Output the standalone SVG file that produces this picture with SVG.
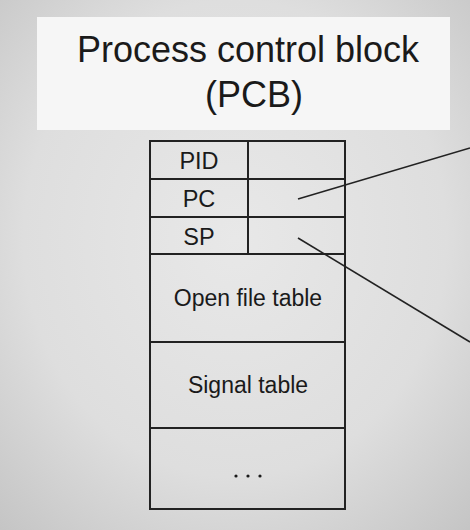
<svg xmlns="http://www.w3.org/2000/svg" width="470" height="530" viewBox="0 0 470 530">
<defs>
<radialGradient id="bg" cx="0.5" cy="0.45" r="0.75">
<stop offset="0" stop-color="#e8e8e8"/>
<stop offset="0.6" stop-color="#dedede"/>
<stop offset="1" stop-color="#c4c4c4"/>
</radialGradient>
<style>
.t{font-family:"Liberation Sans",Arial,sans-serif;fill:#1a1a1a;text-anchor:middle}
.cell{fill:none;stroke:#222;stroke-width:2}
.ptr{stroke:#222;stroke-width:1.6;fill:none}
</style>
</defs>
<rect width="470" height="530" fill="url(#bg)"/>
<g id="title">
<rect x="37" y="17" width="413" height="113" fill="#f6f6f6"/>
<text class="t" x="248" y="62" font-size="36">Process control block</text>
<text class="t" x="254" y="107" font-size="36">(PCB)</text>
</g>
<g id="pcb">
<rect class="cell" x="150" y="141" width="195" height="368"/>
<line class="cell" x1="248" y1="141" x2="248" y2="254"/>
<line class="cell" x1="150" y1="179" x2="345" y2="179"/>
<line class="cell" x1="150" y1="217" x2="345" y2="217"/>
<line class="cell" x1="150" y1="254" x2="345" y2="254"/>
<line class="cell" x1="150" y1="342" x2="345" y2="342"/>
<line class="cell" x1="150" y1="428" x2="345" y2="428"/>
</g>
<g id="pid"><text class="t" x="199" y="169" font-size="23.5">PID</text></g>
<g id="pc"><text class="t" x="199" y="207" font-size="23.5">PC</text></g>
<g id="sp"><text class="t" x="199" y="245" font-size="23.5">SP</text></g>
<g id="openfile"><text class="t" x="248" y="306" font-size="23">Open file table</text></g>
<g id="signal"><text class="t" x="248" y="393" font-size="23">Signal table</text></g>
<g id="more">
<circle cx="236" cy="476" r="1.6" fill="#1a1a1a"/>
<circle cx="248" cy="476" r="1.6" fill="#1a1a1a"/>
<circle cx="260" cy="476" r="1.6" fill="#1a1a1a"/>
</g>
<g id="connectors">
<line class="ptr" x1="298" y1="199" x2="470" y2="148"/>
<line class="ptr" x1="298" y1="238" x2="470" y2="342"/>
</g>
</svg>
